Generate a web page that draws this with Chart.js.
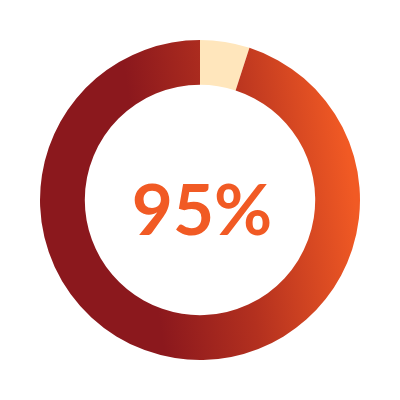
<!DOCTYPE html>
<html>
<head>
<meta charset="utf-8">
<script src="https://cdn.jsdelivr.net/npm/chart.js@4/dist/chart.umd.min.js"></script>
<style>
    html, body { margin: 0; padding: 0; background: #fff; }
    #wrap { width: 400px; height: 400px; }
</style>
</head>
<body>
<div id="wrap"><canvas id="progress"></canvas></div>
<script>
const labels = ['Restante', 'Concluído'];
const values = [5, 95];
const centerLabel = '95%';

const canvas = document.getElementById('progress');

function sliceColor(context) {
    if (context.dataIndex === 0) {
        return '#ffe6bc';
    }
    const { chart } = context;
    const area = chart.chartArea;
    if (!area) {
        return '#b8321f';
    }
    const w = area.right - area.left;
    const h = area.bottom - area.top;
    const g = chart.ctx.createLinearGradient(
        area.left + w * 0.33, area.top + h * 0.56,
        area.left + w * 0.98, area.top + h * 0.47
    );
    g.addColorStop(0, '#8b181d');
    g.addColorStop(0.45, '#b3301f');
    g.addColorStop(1, '#f15a24');
    return g;
}

const centerText = {
    id: 'centerText',
    afterDraw(chart) {
        const { ctx, chartArea } = chart;
        const cx = (chartArea.left + chartArea.right) / 2 + 2;
        const cy = (chartArea.top + chartArea.bottom) / 2 + 35;
        ctx.save();
        ctx.fillStyle = '#f15a24';
        ctx.font = 'bold 71px Lato, "Open Sans", sans-serif';
        ctx.textAlign = 'center';
        ctx.textBaseline = 'alphabetic';
        ctx.fillText(centerLabel, cx, cy);
        ctx.restore();
    }
};

new Chart(canvas, {
    type: 'doughnut',
    data: {
        labels: labels,
        datasets: [{
            data: values,
            backgroundColor: sliceColor,
            borderWidth: 0,
            hoverOffset: 0
        }]
    },
    options: {
        responsive: true,
        maintainAspectRatio: false,
        animation: false,
        cutout: '72%',
        layout: { padding: 40 },
        plugins: {
            legend: { display: false },
            tooltip: { enabled: false }
        }
    },
    plugins: [centerText]
});
</script>
</body>
</html>
